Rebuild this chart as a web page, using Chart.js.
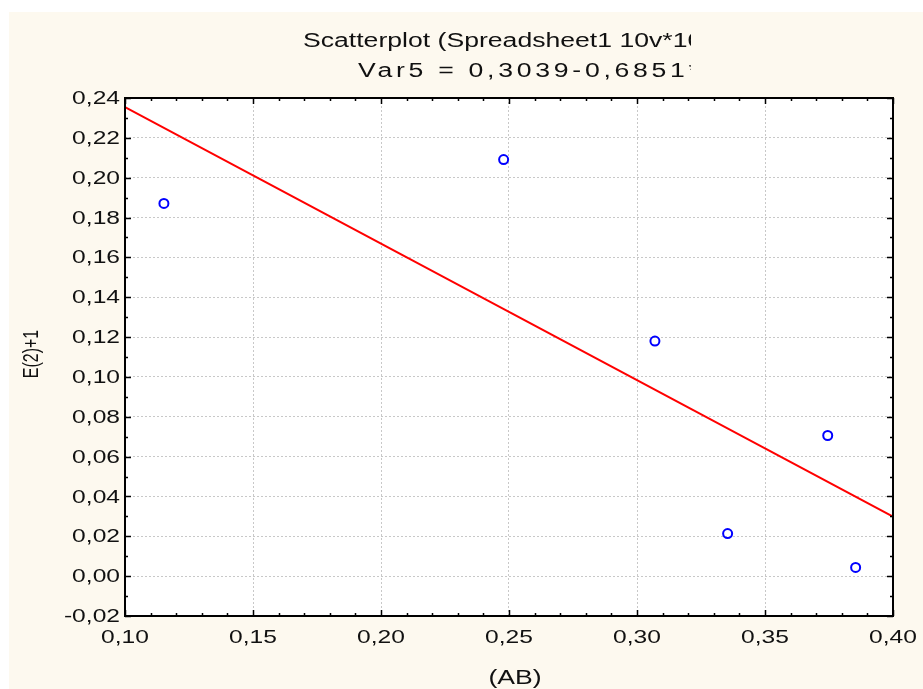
<!DOCTYPE html>
<html>
<head>
<meta charset="utf-8">
<script src="https://cdn.jsdelivr.net/npm/chart.js@4/dist/chart.umd.min.js"></script>
<style>
  body { margin: 0; background: #ffffff; }
  canvas { display: block; }
</style>
</head>
<body>
<canvas id="scatter" width="923" height="689"></canvas>
<script>
// values
const xValues = [0.1152, 0.2479, 0.3070, 0.3354, 0.3745, 0.3854];
const yValues = [0.1871, 0.2091, 0.1180, 0.0214, 0.0706, 0.0044];
// fitted line Var5 = 0,3039-0,6851*x at the ends of the x range
const fitX = [0.10, 0.40];
const fitY = [0.2354, 0.0299];

const titleLines = ['Scatterplot (Spreadsheet1 10v*10c)', 'Var5 = 0,3039-0,6851*x'];
const xTitle = '(AB)';
const yTitle = 'E(2)+1';

const stretch = 1.33;   // the source picture is drawn wider than tall
const fontName = '"Liberation Sans", Arial, sans-serif';

function commaLabel(v) {
    return v.toFixed(2).replace('.', ',');
}

function wideText(ctx, text, x, y, size, align, baseline, spacing) {
    ctx.save();
    ctx.font = size + 'px ' + fontName;
    ctx.fillStyle = '#111111';
    ctx.textAlign = align;
    ctx.textBaseline = baseline;
    if (spacing) ctx.letterSpacing = spacing + 'px';
    ctx.translate(x, y);
    ctx.scale(stretch, 1);
    ctx.fillText(text, 0, 0);
    ctx.restore();
}

const framePlugin = {
    id: 'frame',
    beforeDraw(chart) {
        const ctx = chart.ctx;
        const a = chart.chartArea;
        ctx.save();
        ctx.fillStyle = '#ffffff';
        ctx.fillRect(0, 0, chart.width, chart.height);
        ctx.fillStyle = '#fdf9ef';
        ctx.fillRect(9, 12, chart.width - 9, chart.height - 12);
        ctx.fillStyle = '#ffffff';
        ctx.fillRect(a.left, a.top, a.right - a.left, a.bottom - a.top);
        ctx.restore();
    },
    afterDraw(chart) {
        const ctx = chart.ctx;
        const a = chart.chartArea;
        const xs = chart.scales.x;
        const ys = chart.scales.y;

        // inward tick marks on all four sides
        ctx.save();
        ctx.strokeStyle = '#000000';
        ctx.lineWidth = 1.5;
        ctx.beginPath();
        for (let i = 0; i <= 30; i++) {
            const v = xs.min + i * 0.01;
            const px = Math.round(xs.getPixelForValue(v)) + 0.5;
            const len = i % 5 === 0 ? 6 : 3;
            ctx.moveTo(px, a.bottom); ctx.lineTo(px, a.bottom - len);
            ctx.moveTo(px, a.top); ctx.lineTo(px, a.top + len);
        }
        for (let i = 0; i <= 26; i++) {
            const v = ys.min + i * 0.01;
            const py = Math.round(ys.getPixelForValue(v)) + 0.5;
            const len = i % 2 === 0 ? 6 : 3;
            ctx.moveTo(a.left, py); ctx.lineTo(a.left + len, py);
            ctx.moveTo(a.right, py); ctx.lineTo(a.right - len, py);
        }
        ctx.stroke();
        ctx.lineWidth = 2;
        ctx.strokeRect(a.left, a.top, a.right - a.left, a.bottom - a.top);
        ctx.restore();

        // tick labels
        xs.ticks.forEach(t => {
            wideText(ctx, commaLabel(t.value), xs.getPixelForValue(t.value), a.bottom + 13, 18.5, 'center', 'top');
        });
        ys.ticks.forEach(t => {
            wideText(ctx, commaLabel(t.value), a.left - 5, ys.getPixelForValue(t.value) + 1, 18.5, 'right', 'middle');
        });

        // axis titles
        wideText(ctx, xTitle, (a.left + a.right) / 2 + 6, 684, 20, 'center', 'alphabetic');
        ctx.save();
        ctx.font = '16px ' + fontName;
        ctx.fillStyle = '#111111';
        ctx.textAlign = 'center';
        ctx.textBaseline = 'middle';
        ctx.translate(32.5, 354);
        ctx.scale(stretch, 1);
        ctx.rotate(-Math.PI / 2);
        ctx.fillText(yTitle, 0, 0);
        ctx.restore();

        // title, cut off on the right as in the source
        ctx.save();
        ctx.beginPath();
        ctx.rect(0, 0, 691, a.top);
        ctx.clip();
        wideText(ctx, titleLines[0], 303, 47, 20, 'left', 'alphabetic');
        wideText(ctx, titleLines[1], 358, 77, 20, 'left', 'alphabetic', 2.8);
        ctx.restore();
    }
};

const points = xValues.map((x, i) => ({ x: x, y: yValues[i] }));
const fitPoints = fitX.map((x, i) => ({ x: x, y: fitY[i] }));

const config = {
    type: 'scatter',
    data: {
        datasets: [{
            label: 'Var5',
            data: points,
            pointStyle: 'circle',
            pointRadius: 4.5,
            pointBorderWidth: 2,
            borderColor: '#0000ff',
            backgroundColor: 'rgba(0,0,0,0)',
            order: 1
        }, {
            label: 'fit',
            type: 'line',
            data: fitPoints,
            showLine: true,
            pointRadius: 0,
            borderColor: '#ff0000',
            borderWidth: 2,
            fill: false,
            order: 2
        }]
    },
    options: {
        responsive: false,
        animation: false,
        devicePixelRatio: 1,
        layout: { padding: { left: 125, right: 30, top: 98, bottom: 73 } },
        plugins: {
            legend: { display: false },
            tooltip: { enabled: false },
            title: { display: false }
        },
        scales: {
            x: {
                type: 'linear',
                min: 0.10,
                max: 0.40,
                ticks: { display: false, stepSize: 0.05 },
                grid: { color: '#c8c8c8', lineWidth: 1, drawTicks: false },
                border: { display: false, dash: [2, 2] },
                afterFit: s => { s.height = 0; }
            },
            y: {
                type: 'linear',
                min: -0.02,
                max: 0.24,
                ticks: { display: false, stepSize: 0.02 },
                grid: { color: '#c8c8c8', lineWidth: 1, drawTicks: false },
                border: { display: false, dash: [2, 2] },
                afterFit: s => { s.width = 0; }
            }
        }
    },
    plugins: [framePlugin]
};

new Chart(document.getElementById('scatter'), config);
</script>
</body>
</html>
